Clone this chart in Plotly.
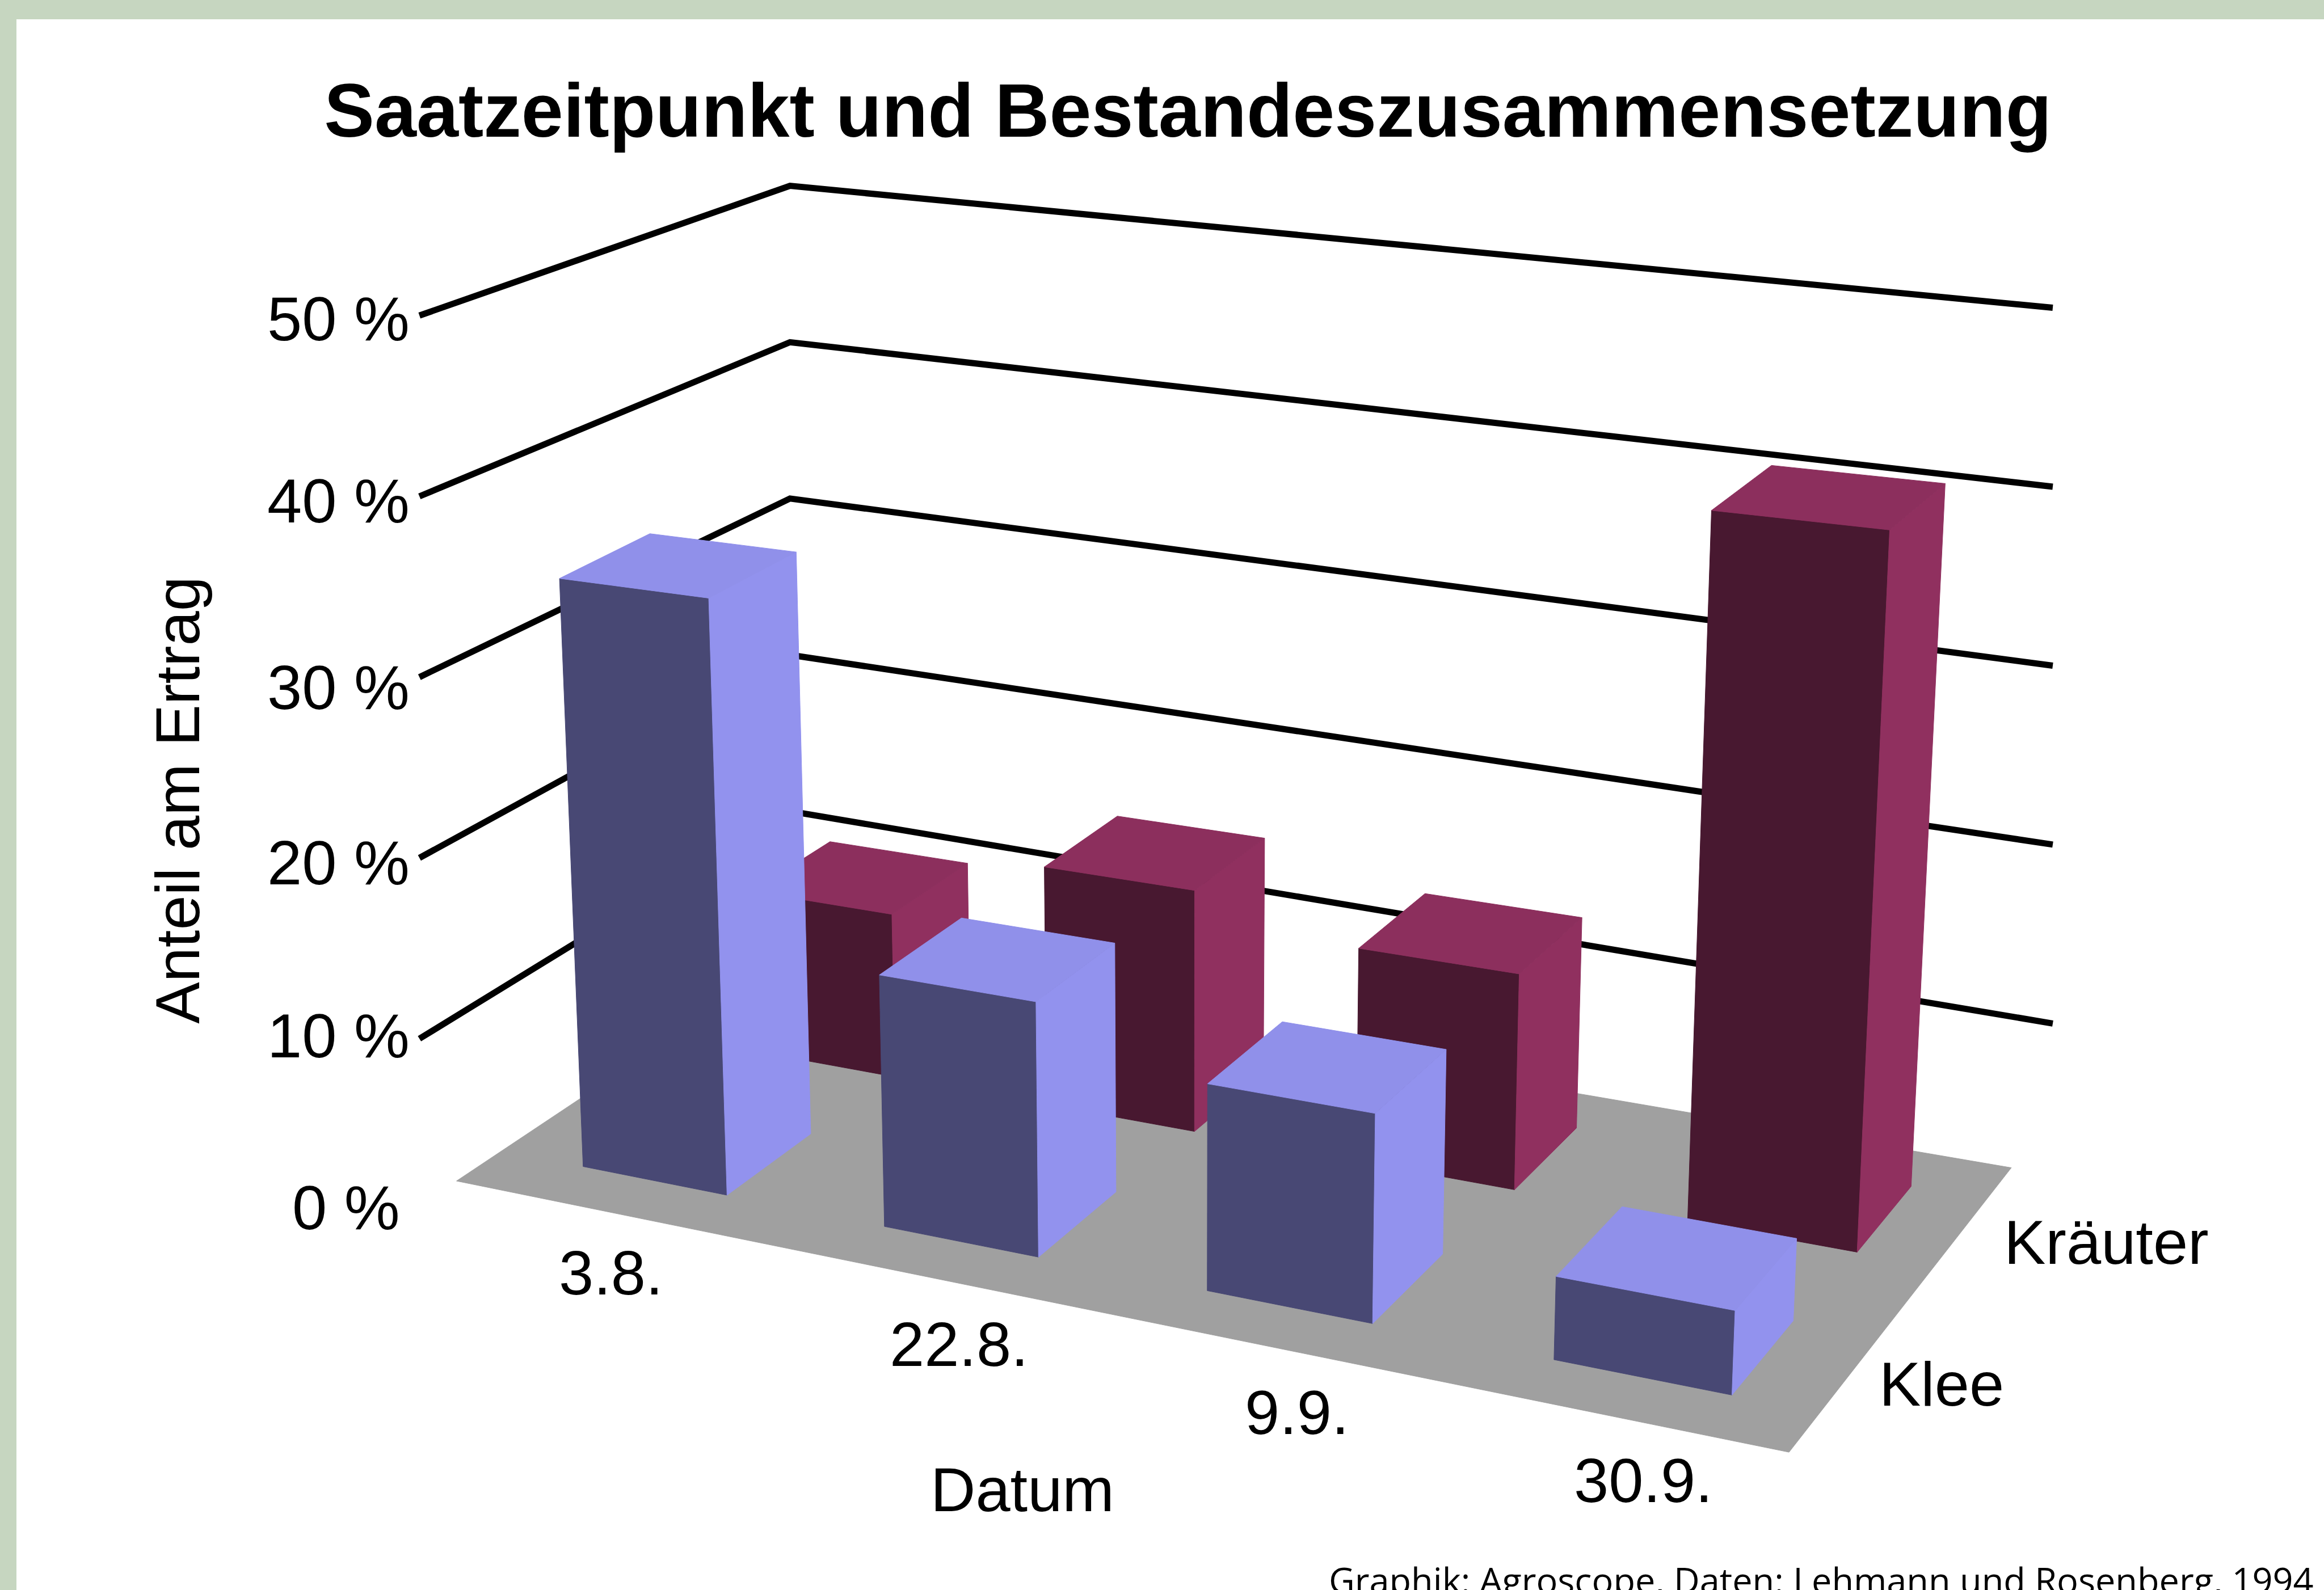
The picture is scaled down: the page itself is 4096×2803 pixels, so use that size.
import plotly.graph_objects as go

# ---- data ----
dates = ["3.8.", "22.8.", "9.9.", "30.9."]
series_names = ["Klee", "Kräuter"]
klee = [33.0, 14.0, 11.2, 4.4]
kraeuter = [9.7, 13.9, 12.1, 38.0]
y_levels = [0, 10, 20, 30, 40, 50]
y_tick_labels = ["0 %", "10 %", "20 %", "30 %", "40 %", "50 %"]

# ---- view: a fixed perspective projection of the chart box ----
A, B, C = 737.3, 286.5, 308.0
D, E, F = 51.7, -75.3, 797.0
G, H = -0.134, 0.1154
R = -0.00115
P_X, P_Z = 800 * R, 10900 * R
SHIFT_KLEE = 0.0075
SHIFT_KRAEUTER = 0.012
BAR_W = 0.1215
BAR_D = 0.25


def project(x, y, z):
    w = G * x + H * y + 1 + R * z
    return ((A * x + B * y + C + P_X * z) / w, (D * x + E * y + F + P_Z * z) / w)


W = 4096
H_PX = 2803
scale = W / 1568
FRAME_L, FRAME_T = 11.1, 13.1
GREEN = "#C6D6C0"
KLEE = dict(front="#484874", side="#9292EE", top="#9090EA")
KRAEUTER = dict(front="#481830", side="#90305F", top="#8C2F5D")

fig = go.Figure()


def polygon(points, color, name):
    xs = [p[0] for p in points] + [points[0][0]]
    ys = [p[1] for p in points] + [points[0][1]]
    fig.add_trace(go.Scatter(x=xs, y=ys, mode="lines", fill="toself", fillcolor=color,
                             line=dict(color=color, width=1), hoverinfo="skip",
                             showlegend=False, name=name))


# floor
polygon([project(0, 0, 0), project(1, 0, 0), project(1, 1, 0), project(0, 1, 0)], "#A0A0A0", "floor")


# walls with gridlines: left end, back corner and right end of each level
def wall_line(level):
    u = level / 10
    return ([283, 533, 1385], [823 - 122 * u, 653 - 105.5 * u, 811.5 - 120.75 * u])


for lv in y_levels[1:]:
    xs, ys = wall_line(lv)
    fig.add_trace(go.Scatter(x=xs, y=ys, mode="lines", line=dict(color="black", width=11),
                             hoverinfo="skip", showlegend=False, name=f"{lv} %"))


def bar(i, y0, value, colors, shift, name):
    x0 = 0.0625 + 0.25 * i + shift
    x1 = x0 + BAR_W
    y1 = y0 + BAR_D
    polygon([project(x0, y0, 0), project(x1, y0, 0), project(x1, y0, value), project(x0, y0, value)],
            colors["front"], name)
    polygon([project(x1, y0, 0), project(x1, y1, 0), project(x1, y1, value), project(x1, y0, value)],
            colors["side"], name)
    polygon([project(x0, y0, value), project(x1, y0, value), project(x1, y1, value), project(x0, y1, value)],
            colors["top"], name)


for i, v in enumerate(kraeuter):
    bar(i, 0.625, v, KRAEUTER, SHIFT_KRAEUTER, f"Kräuter {dates[i]}")
for i, v in enumerate(klee):
    bar(i, 0.125, v, KLEE, SHIFT_KLEE, f"Klee {dates[i]}")

# ---- text ----
LABEL = 110
FONT = "Liberation Sans"
tick_y = [815, 699, 582, 464, 338, 215]
tick_x = [270.5, 277, 277, 277, 277, 277]
date_pos = [(412, 859), (647, 907), (875, 953), (1109, 999)]
ann = []


def text(x, y, s, size=LABEL, anchor="center", angle=0, family=FONT, color="black"):
    ann.append(dict(x=x, y=y, xref="x", yref="y", text=s, showarrow=False, xanchor=anchor,
                    yanchor="middle", textangle=angle, font=dict(family=family, size=size, color=color)))


for s, xp, yp in zip(y_tick_labels, tick_x, tick_y):
    text(xp, yp, s, anchor="right")
for s, (xp, yp) in zip(dates, date_pos):
    text(xp, yp, s)
text(690, 1005, "Datum")
text(1421, 838, series_names[1])
text(1310, 934, series_names[0])
text(119.5, 540, "Anteil am Ertrag", angle=-90)
text(1562, 1066, "Graphik: Agroscope, Daten: Lehmann und Rosenberg, 1994", size=63, anchor="right", family="Open Sans")

fig.update_layout(
    width=W, height=H_PX,
    margin=dict(l=round(FRAME_L * scale), t=round(FRAME_T * scale), r=0, b=0),
    paper_bgcolor=GREEN, plot_bgcolor="white",
    title=dict(text="<b>Saatzeitpunkt und Bestandeszusammensetzung</b>", x=796 / 1568, xref="paper",
               xanchor="center", y=1 - 62 / 1073, yref="paper", yanchor="middle",
               font=dict(family=FONT, size=133, color="black")),
    xaxis=dict(range=[FRAME_L, 1568], visible=False, fixedrange=True),
    yaxis=dict(range=[1073, FRAME_T], visible=False, fixedrange=True),
    annotations=ann, showlegend=False,
)
fig.write_html("out.html", config={"displayModeBar": False},
               post_script="document.body.style.margin='0';")
